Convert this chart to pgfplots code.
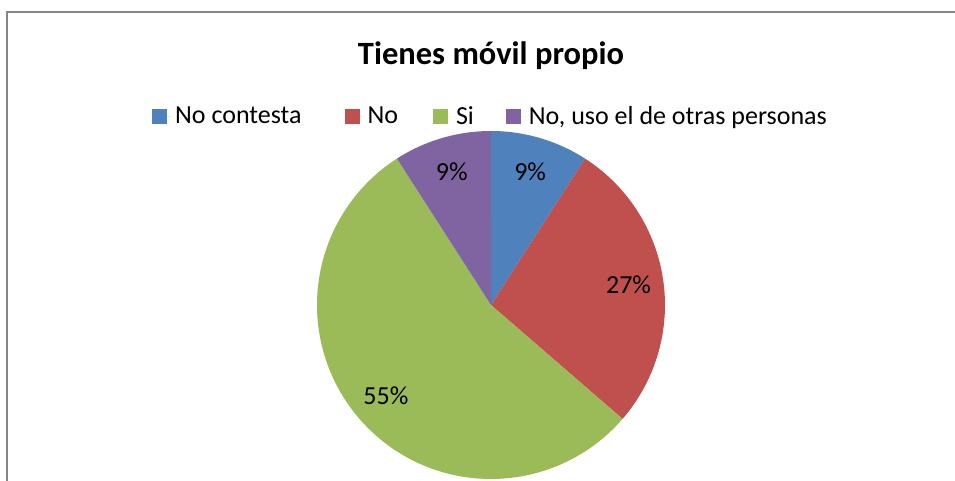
\documentclass[border=0pt]{standalone}
\usepackage{fontspec}
\setmainfont{Carlito}
\usepackage{pgfplots}
\usepackage{pgfplotstable}
\pgfplotsset{compat=1.18}

\definecolor{slice0}{HTML}{4F81BD}
\definecolor{slice1}{HTML}{C0504D}
\definecolor{slice2}{HTML}{9BBB59}
\definecolor{slice3}{HTML}{8064A2}
\definecolor{framegray}{HTML}{868686}

% share of answers, in percent (No contesta, No, Si, No uso el de otras personas)
\pgfplotstableread{
value
9.09
27.27
54.55
9.09
}\pietable

% slice angles: start at 12 o'clock, run clockwise
\def\cum{90}
\pgfplotsforeachungrouped \i in {0,...,3}{%
  \pgfplotstablegetelem{\i}{value}\of\pietable
  \let\v=\pgfplotsretval
  \pgfmathsetmacro\stop{\cum-3.6*\v}
  \pgfmathsetmacro\mid{(\cum+\stop)/2}
  \expandafter\xdef\csname sA\i\endcsname{\cum}%
  \expandafter\xdef\csname sB\i\endcsname{\stop}%
  \expandafter\xdef\csname sM\i\endcsname{\mid}%
  \expandafter\xdef\csname sV\i\endcsname{\v}%
  \xdef\cum{\stop}%
}

\begin{document}
\begin{tikzpicture}
\draw[framegray, line width=1pt] (3.5pt,-5pt) -- (3.5pt,234.5pt) -- (490pt,234.5pt);
\begin{axis}[
  hide axis, clip=false,
  x=0.5pt, y=0.5pt,
  xmin=-180, xmax=180, ymin=-180, ymax=180,
  anchor=center, at={(245.5pt,88pt)},
  title={Tienes móvil propio},
  title style={font=\fontsize{16.25}{19}\selectfont\bfseries, at={(0.5,1)}, anchor=center, yshift=28.5pt},
  legend image code/.code={\path[#1] (0pt,-3.75pt) rectangle (7.5pt,3.75pt); \path (0pt,0pt) -- (10pt,0pt);},
  legend style={draw=none, fill=none, at={(0.5,1)}, anchor=center, yshift=4pt,
    legend columns=4, font=\fontsize{13}{15}\selectfont,
    nodes={inner sep=1.5pt},
    /tikz/column 2/.append style={column sep=20pt},
    /tikz/column 4/.append style={column sep=16pt},
    /tikz/column 6/.append style={column sep=14.5pt}},
]
\addlegendimage{fill=slice0, draw=none}
\addlegendimage{fill=slice1, draw=none}
\addlegendimage{fill=slice2, draw=none}
\addlegendimage{fill=slice3, draw=none}
\legend{No contesta, No, Si, {No, uso el de otras personas}}
\pgfplotsinvokeforeach{0,...,3}{
  \fill[slice#1] (axis cs:0,0)
    -- (axis cs:{174*cos(\csname sA#1\endcsname)},{174*sin(\csname sA#1\endcsname)})
    arc[start angle=\csname sA#1\endcsname, end angle=\csname sB#1\endcsname, radius=87pt]
    -- cycle;
  \node[font=\fontsize{13}{15}\selectfont] at (axis cs:{139*cos(\csname sM#1\endcsname)},{139*sin(\csname sM#1\endcsname)})
    {\pgfmathprintnumber[fixed,precision=0,assume math mode=true]{\csname sV#1\endcsname}\%};
}
\end{axis}
\pgfresetboundingbox
\path[use as bounding box] (0pt,0pt) rectangle (477.5pt,240.5pt);
\end{tikzpicture}
\end{document}
